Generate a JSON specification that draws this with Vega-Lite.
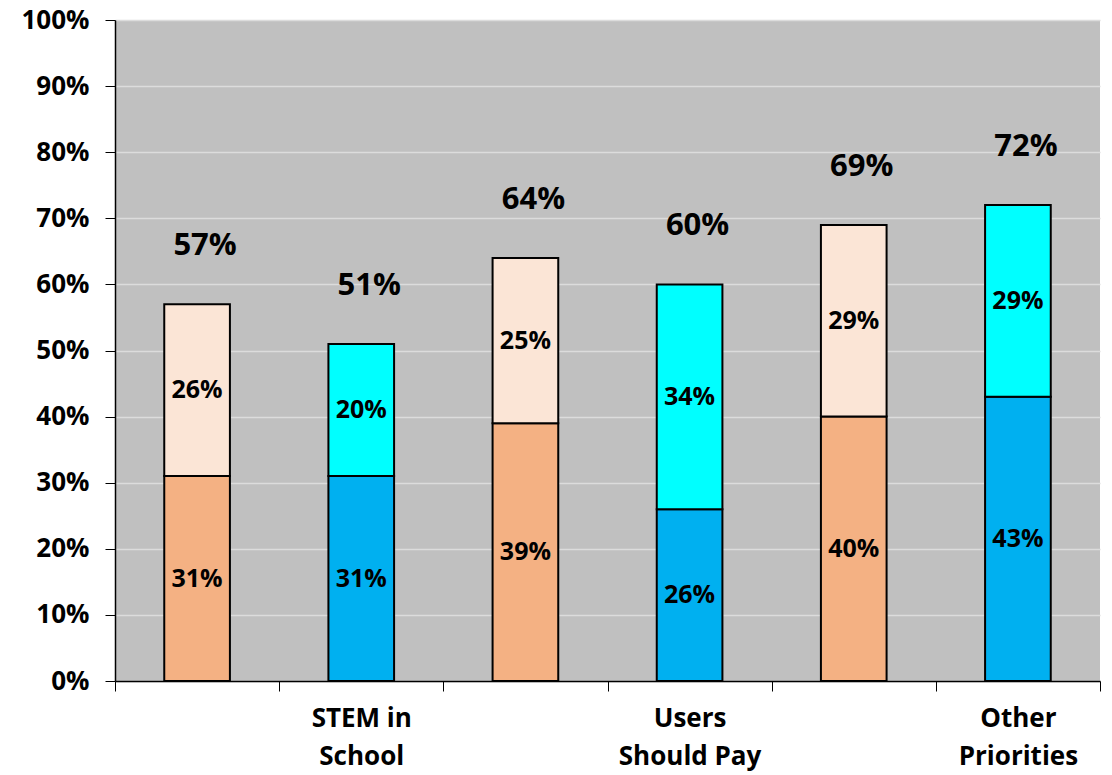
{
  "$schema": "https://vega.github.io/schema/vega-lite/v6.json",
  "width": 985,
  "height": 661,
  "autosize": {"type": "none"},
  "padding": {"left": 115, "top": 20, "right": 12, "bottom": 94},
  "background": "white",
  "config": {
    "view": {"fill": "#C0C0C0", "stroke": null},
    "font": "Open Sans"
  },
  "datasets": {
    "segments": [
      {"group": "1", "seg": "orange", "order": 1, "lo": 0, "hi": 31, "value": 31},
      {"group": "1", "seg": "peach", "order": 2, "lo": 31, "hi": 57, "value": 26},
      {"group": "2", "seg": "blue", "order": 1, "lo": 0, "hi": 31, "value": 31},
      {"group": "2", "seg": "cyan", "order": 2, "lo": 31, "hi": 51, "value": 20},
      {"group": "3", "seg": "orange", "order": 1, "lo": 0, "hi": 39, "value": 39},
      {"group": "3", "seg": "peach", "order": 2, "lo": 39, "hi": 64, "value": 25},
      {"group": "4", "seg": "blue", "order": 1, "lo": 0, "hi": 26, "value": 26},
      {"group": "4", "seg": "cyan", "order": 2, "lo": 26, "hi": 60, "value": 34},
      {"group": "5", "seg": "orange", "order": 1, "lo": 0, "hi": 40, "value": 40},
      {"group": "5", "seg": "peach", "order": 2, "lo": 40, "hi": 69, "value": 29},
      {"group": "6", "seg": "blue", "order": 1, "lo": 0, "hi": 43, "value": 43},
      {"group": "6", "seg": "cyan", "order": 2, "lo": 43, "hi": 72, "value": 29}
    ],
    "totals": [
      {"group": "1", "total": 57},
      {"group": "2", "total": 51},
      {"group": "3", "total": 64},
      {"group": "4", "total": 60},
      {"group": "5", "total": 69},
      {"group": "6", "total": 72}
    ]
  },
  "encoding": {
    "x": {
      "field": "group",
      "type": "nominal",
      "sort": ["1", "2", "3", "4", "5", "6"],
      "scale": {"paddingInner": 0, "paddingOuter": 0},
      "axis": {
        "title": null,
        "labelAngle": 0,
        "tickBand": "extent",
        "tickSize": 10,
        "tickColor": "#000000",
        "domainColor": "#000000",
        "domainWidth": 1.5,
        "labelFontSize": 26,
        "labelFontWeight": "bold",
        "labelColor": "#000000",
        "labelPadding": 14,
        "labelLineHeight": 38,
        "labelBaseline": "top",
        "labelExpr": "datum.value == '2' ? ['STEM in', 'School'] : datum.value == '4' ? ['Users', 'Should Pay'] : datum.value == '6' ? ['Other', 'Priorities'] : ''"
      }
    }
  },
  "layer": [
    {
      "data": {"name": "segments"},
      "mark": {"type": "bar", "stroke": "#000000", "strokeWidth": 2, "width": {"band": 0.4}},
      "encoding": {
        "y": {
          "field": "lo",
          "type": "quantitative",
          "scale": {"domain": [0, 100]},
          "axis": {
            "title": null,
            "values": [0, 10, 20, 30, 40, 50, 60, 70, 80, 90, 100],
            "labelExpr": "datum.value + '%'",
            "grid": true,
            "gridColor": "#DCDCDC",
            "gridWidth": 1.5,
            "tickSize": 10,
            "tickColor": "#000000",
            "domainColor": "#000000",
            "domainWidth": 1.5,
            "labelFontSize": 26,
            "labelFontWeight": "bold",
            "labelColor": "#000000",
            "labelPadding": 16
          }
        },
        "y2": {"field": "hi"},
        "color": {
          "field": "seg",
          "type": "nominal",
          "scale": {
            "domain": ["orange", "peach", "blue", "cyan"],
            "range": ["#F4B183", "#FBE5D6", "#00B0F0", "#00FFFF"]
          },
          "legend": null
        }
      }
    },
    {
      "data": {"name": "segments"},
      "transform": [
        {"calculate": "(datum.lo + datum.hi) / 2", "as": "mid"},
        {"calculate": "datum.value + '%'", "as": "lab"}
      ],
      "mark": {"type": "text", "fontSize": 25, "fontWeight": "bold", "color": "#000000", "baseline": "middle"},
      "encoding": {
        "y": {"field": "mid", "type": "quantitative"},
        "text": {"field": "lab", "type": "nominal"}
      }
    },
    {
      "data": {"name": "totals"},
      "transform": [
        {"calculate": "datum.total + '%'", "as": "lab"}
      ],
      "mark": {"type": "text", "fontSize": 31, "fontWeight": "bold", "color": "#000000", "baseline": "middle", "dx": 8, "dy": -58},
      "encoding": {
        "y": {"field": "total", "type": "quantitative"},
        "text": {"field": "lab", "type": "nominal"}
      }
    }
  ]
}
